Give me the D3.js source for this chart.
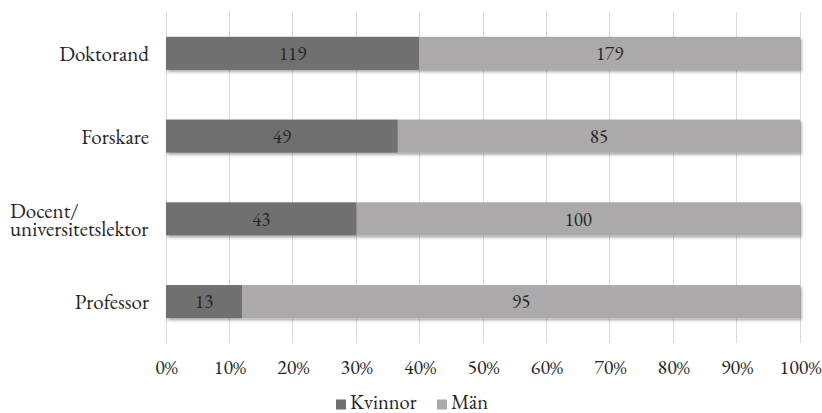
<!DOCTYPE html>
<html><head><meta charset="utf-8">
<script src="https://cdn.jsdelivr.net/npm/d3@7"></script>
<style>body{margin:0;background:#fff}svg{display:block}</style>
</head><body><svg id="c" width="822" height="413"></svg>
<script>
const categories = ["Doktorand","Forskare","Docent/\nuniversitetslektor","Professor"];
const kvinnor = [119,49,43,13];
const man = [179,85,100,95];
const seriesNames = ["Kvinnor","Män"];
const ticks = [0,0.1,0.2,0.3,0.4,0.5,0.6,0.7,0.8,0.9,1];
const colors = ["#716f70","#aba9aa"];
const FONT = "EB Garamond, Liberation Serif, serif";

const svg = d3.select("#c");
const m = {left:166, right:22, top:12, bottom:70};
const W = 822, H = 413;
const x = d3.scaleLinear().domain([0,1]).range([m.left, W-m.right]);
const y = d3.scaleBand().domain(categories).range([m.top, H-m.bottom]).paddingInner(0.6).paddingOuter(0.3);

const defs = svg.append("defs");
const f = defs.append("filter").attr("id","sh").attr("x","-5%").attr("y","-20%").attr("width","110%").attr("height","160%");
f.append("feDropShadow").attr("dx",1.5).attr("dy",2).attr("stdDeviation",1.5).attr("flood-color","#000").attr("flood-opacity",0.35);

svg.append("g").selectAll("line").data(ticks).join("line")
  .attr("x1",d=>x(d)).attr("x2",d=>x(d)).attr("y1",m.top).attr("y2",H-m.bottom)
  .attr("stroke","#d9d9d9").attr("stroke-width",1).attr("shape-rendering","crispEdges");

const data = categories.map((c,i)=>({cat:c, vals:[kvinnor[i], man[i]]}));
const gBars = svg.append("g").attr("filter","url(#sh)");
data.forEach(d=>{
  const tot = d.vals[0]+d.vals[1];
  let acc = 0;
  d.vals.forEach((v,j)=>{
    const x0 = acc/tot, x1 = (acc+v)/tot; acc += v;
    gBars.append("rect").attr("x",x(x0)).attr("width",x(x1)-x(x0))
      .attr("y",y(d.cat)).attr("height",y.bandwidth()).attr("fill",colors[j]);
  });
});
data.forEach(d=>{
  const tot = d.vals[0]+d.vals[1];
  let acc = 0;
  d.vals.forEach((v,j)=>{
    const x0 = acc/tot, x1 = (acc+v)/tot; acc += v;
    svg.append("text").attr("x",(x(x0)+x(x1))/2).attr("y",y(d.cat)+y.bandwidth()/2)
      .attr("dy","0.35em").attr("text-anchor","middle").attr("font-family",FONT).attr("font-size",19).attr("fill","#262626")
      .text(v);
  });
});

const xAxis = d3.axisBottom(x).tickValues(ticks).tickFormat(d3.format(".0%")).tickSize(0);
const gx = svg.append("g").attr("transform",`translate(0,${H-m.bottom+14})`).call(xAxis);
gx.select(".domain").remove();
gx.attr("font-family",FONT);
gx.selectAll("text").attr("font-size",20).attr("fill","#262626").attr("font-family",FONT);

categories.forEach(c=>{
  const lines = c.split("\n");
  const cy = y(c)+y.bandwidth()/2;
  if(lines.length===1){
    svg.append("text").attr("x",149).attr("y",cy).attr("dy","0.36em").attr("text-anchor","end")
      .attr("font-family",FONT).attr("font-size",21).attr("fill","#262626").text(c);
  } else {
    const t = svg.append("text").attr("x",10).attr("y",cy-7+6.3)
      .attr("font-family",FONT).attr("font-size",21).attr("fill","#262626");
    lines.forEach((l,k)=>{
      t.append("tspan").attr("x",10).attr("dy",k===0?0:18).text(l);
    });
  }
});

const leg = svg.append("g");
const lx = [336,437];
seriesNames.forEach((s,i)=>{
  leg.append("rect").attr("x",lx[i]).attr("y",399.5).attr("width",10).attr("height",10).attr("fill",colors[i]);
  leg.append("text").attr("x",lx[i]+14).attr("y",408.5).attr("font-family",FONT).attr("font-size",20.5).attr("fill","#262626").text(s);
});
</script></body></html>
